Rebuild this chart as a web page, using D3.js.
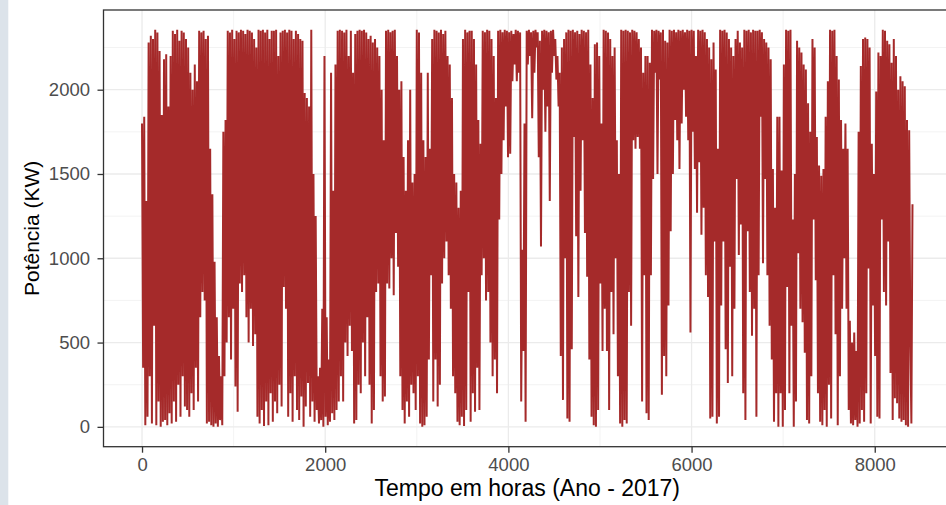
<!DOCTYPE html>
<html>
<head>
<meta charset="utf-8">
<script src="https://cdn.jsdelivr.net/npm/d3@7"></script>
<style>
html,body{margin:0;padding:0;background:#fff;}
svg{display:block;}
text{font-family:"Liberation Sans",Arial,sans-serif;}
</style>
</head>
<body>
<svg id="chart" width="946" height="505"></svg>
<script>
const stepHours = 12;
const power = [
1800,350,1840,10,1340,60,2280,300,2320,20,2300,600,2355,10,2340,150,2230,0,1850,30,
2180,40,2210,10,1900,80,2200,20,2350,150,2330,30,2355,250,2290,60,2350,300,2340,120,
2300,100,2250,60,2100,200,2000,100,2150,350,2050,150,2350,650,2340,800,2350,750,2300,20,
2320,30,1650,10,1380,0,980,20,650,0,420,40,300,10,1750,300,1820,500,2350,650,
2340,400,2355,700,2300,240,2350,90,2340,850,2355,800,2350,900,2330,650,2355,500,2350,700,
2340,480,2300,550,2250,60,2355,20,2350,100,2355,5,2340,150,2355,10,2300,200,2350,30,
2350,150,2355,80,2200,250,2340,120,2350,830,2355,700,2340,60,2355,200,2350,30,2300,300,
2350,100,2330,40,2300,180,2290,0,1980,120,1950,260,1900,60,2355,150,1500,30,1250,100,
300,20,350,40,700,0,2200,60,650,10,400,30,2100,80,1400,40,2150,100,2350,150,
2355,300,2350,150,2340,500,2355,420,2200,600,2350,450,2100,20,2330,40,2350,250,2355,200,
2350,500,2355,300,2340,650,2300,250,2320,20,2280,100,2300,800,2250,850,2200,300,2000,150,
1700,180,2350,850,2355,820,2340,1000,2350,780,2355,1150,2200,950,2000,300,2050,100,1600,20,
1400,150,1700,60,2000,250,1450,200,1500,100,2355,300,2340,20,2100,0,1700,10,1600,60,
2100,400,1650,900,2300,150,2355,400,2350,120,2340,250,2355,850,2330,1000,2350,1100,2200,900,
2150,700,1950,300,1500,200,1450,30,1300,10,1400,60,2300,5,2355,100,2340,800,2350,30,
2350,200,2300,90,2150,350,1820,100,1680,900,2350,1000,2340,750,2355,800,2350,500,2300,300,
2200,400,1950,200,2350,1230,2355,1500,2340,1700,2355,1900,2350,1600,2340,1620,2350,2050,2330,2150,
2355,2050,2350,2100,2340,150,1050,450,1800,30,2350,2150,2355,2200,2340,1830,2350,2100,2355,2250,
2340,1600,2290,1070,2350,2000,2355,1750,2350,1900,2340,1340,2350,2100,2355,2200,2300,2060,2200,1900,
2100,420,2250,160,2300,1000,2340,50,2355,30,2350,460,2355,1720,2340,1130,2350,770,2330,1400,
2355,1700,2350,1150,2340,890,2355,400,2150,60,1950,10,2270,0,2280,100,2200,850,1800,450,
2355,700,2350,450,2340,100,2300,800,2200,550,2250,1000,1700,300,1500,20,2355,0,2350,40,
2355,20,2350,800,2340,600,2355,1700,2350,1650,2340,1720,2300,1650,2250,150,2100,900,2200,80,
2200,40,2160,900,2355,1470,2350,2100,2355,1500,2350,2060,2340,190,2355,420,2290,300,2280,720,
2355,1160,2350,1500,2355,1820,2340,1700,2355,1530,2350,1800,2355,2000,2340,1840,2355,1700,2350,560,
2355,1750,2350,1530,2200,1270,2355,1570,2350,1140,2355,1300,2340,900,2300,770,2250,50,2180,60,
2280,1100,2120,20,1650,60,2355,720,2350,1100,2355,460,2340,260,2300,950,2250,300,2200,700,
2300,1470,2350,1020,2280,1200,2250,200,2355,40,2350,1160,2355,800,2340,540,2355,700,2350,60,
2350,900,2355,1840,2340,970,2300,1470,2280,900,2250,600,2180,400,1530,30,1300,200,1840,0,
1840,200,1520,0,2150,100,2355,830,2350,200,2355,600,1230,0,1500,150,2290,1030,2250,700,
2220,620,2150,440,2120,40,1920,20,1750,300,2300,1230,2250,870,1720,200,1550,30,1490,10,
1530,100,1840,0,2050,250,2355,50,2350,900,2355,550,2200,10,2060,300,1820,700,1650,1000,
1800,700,1650,100,630,20,500,10,560,40,450,0,1750,20,2140,100,2300,30,2310,200,
2300,940,2250,20,1680,720,1500,420,1990,60,2220,50,2200,1230,2355,800,2350,720,2290,1100,
2270,320,2160,40,2300,170,2200,140,2000,50,2080,30,2050,40,2020,10,1820,0,1760,530,20,1320
];
const xTicks = [0, 2000, 4000, 6000, 8000];
const yTicks = [0, 500, 1000, 1500, 2000];
const xMinor = [1000, 3000, 5000, 7000];
const yMinor = [250, 750, 1250, 1750, 2250];
const xTitle = "Tempo em horas (Ano - 2017)";
const yTitle = "Potência (KW)";

const data = power.map((v, i) => ({h: i * stepHours, p: v}));

const svg = d3.select("#chart");
const P = {left: 103.5, right: 951, top: 10, bottom: 446.7};

// left strip
svg.append("rect").attr("x", 0).attr("y", 0).attr("width", 8.3).attr("height", 505).attr("fill", "#dce3ea");

const hExt = d3.extent(data, d => d.h);
const pExt = d3.extent(data, d => d.p);
const hPad = (hExt[1] - hExt[0]) * 0.05;
const pPad = (pExt[1] - pExt[0]) * 0.05;

const x = d3.scaleLinear().domain([hExt[0] - hPad, hExt[1] + hPad]).range([P.left, P.right]);
const y = d3.scaleLinear().domain([pExt[0] - pPad, pExt[1] + pPad]).range([P.bottom, P.top]);

const g = svg.append("g");
// minor grid
g.selectAll(".xm").data(xMinor).join("line")
  .attr("x1", d => x(d)).attr("x2", d => x(d)).attr("y1", P.top).attr("y2", P.bottom)
  .attr("stroke", "#f2f2f2").attr("stroke-width", 0.9);
g.selectAll(".ym").data(yMinor).join("line")
  .attr("y1", d => y(d)).attr("y2", d => y(d)).attr("x1", P.left).attr("x2", P.right)
  .attr("stroke", "#f2f2f2").attr("stroke-width", 0.9);
// major grid
g.selectAll(".xg").data(xTicks).join("line")
  .attr("x1", d => x(d)).attr("x2", d => x(d)).attr("y1", P.top).attr("y2", P.bottom)
  .attr("stroke", "#ebebeb").attr("stroke-width", 1.3);
g.selectAll(".yg").data(yTicks).join("line")
  .attr("y1", d => y(d)).attr("y2", d => y(d)).attr("x1", P.left).attr("x2", P.right)
  .attr("stroke", "#ebebeb").attr("stroke-width", 1.3);

// series line
const line = d3.line().x(d => x(d.h)).y(d => y(d.p));
svg.append("path").datum(data)
  .attr("d", line).attr("fill", "none")
  .attr("stroke", "#a52a2a").attr("stroke-width", 2.0).attr("stroke-linejoin", "bevel");

// panel border
svg.append("rect").attr("x", P.left).attr("y", P.top)
  .attr("width", P.right - P.left).attr("height", P.bottom - P.top)
  .attr("fill", "none").attr("stroke", "#333333").attr("stroke-width", 1.3);

// axes
const ax = svg.append("g").attr("transform", `translate(0,${P.bottom})`)
  .call(d3.axisBottom(x).tickValues(xTicks).tickFormat(d3.format("d")).tickSize(6).tickPadding(4.8));
const ay = svg.append("g").attr("transform", `translate(${P.left},0)`)
  .call(d3.axisLeft(y).tickValues(yTicks).tickFormat(d3.format("d")).tickSize(6).tickPadding(7.5));
[ax, ay].forEach(a => {
  a.select(".domain").remove();
  a.selectAll(".tick line").attr("stroke", "#333333").attr("stroke-width", 1.3);
  a.selectAll(".tick text").attr("fill", "#4d4d4d").style("font-size", "18.5px")
    .style("font-family", '"Liberation Sans",Arial,sans-serif');
});

// titles
svg.append("text").attr("x", (P.left + P.right) / 2).attr("y", 495.5)
  .attr("text-anchor", "middle").attr("fill", "#000").style("font-size", "23px").text(xTitle);
svg.append("text").attr("transform", `translate(39,${(P.top + P.bottom) / 2}) rotate(-90)`)
  .attr("text-anchor", "middle").attr("fill", "#000").style("font-size", "21px").text(yTitle);
</script>
</body>
</html>
